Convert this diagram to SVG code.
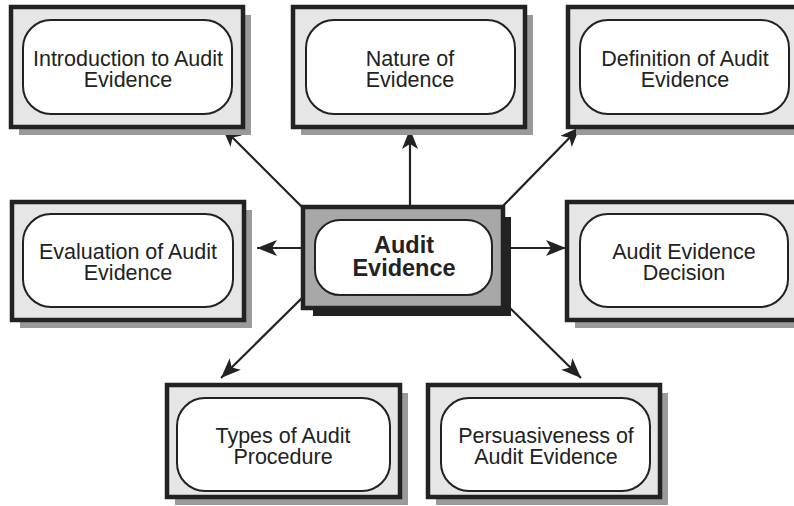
<svg xmlns="http://www.w3.org/2000/svg" width="794" height="506" viewBox="0 0 794 506">
<defs>
<style>
.shadow{fill:#9a9a9a}
.outer{fill:#e6e6e6;stroke:#222;stroke-width:4.5}
.inner{fill:#fff;stroke:#222;stroke-width:2}
.lbl{font-family:"Liberation Sans",Arial,sans-serif;font-size:21.5px;fill:#222;text-anchor:middle}
.clbl{font-family:"Liberation Sans",Arial,sans-serif;font-size:23.5px;font-weight:bold;fill:#222;text-anchor:middle}
.conn{stroke:#222;stroke-width:2.2;fill:none;marker-end:url(#ah)}
</style>
<marker id="ah" markerUnits="userSpaceOnUse" markerWidth="22" markerHeight="18" refX="20" refY="8" orient="auto">
<path d="M0,0 L20,8 L0,16 L5,8 Z" fill="#222"/>
</marker>
</defs>
<rect width="794" height="506" fill="#fff"/>
<g id="connectors">
<line class="conn" x1="303" y1="208" x2="222" y2="127"/>
<line class="conn" x1="410" y1="207" x2="410" y2="129"/>
<line class="conn" x1="502" y1="207" x2="580" y2="127"/>
<line class="conn" x1="303" y1="248" x2="257" y2="248"/>
<line class="conn" x1="510" y1="248" x2="566" y2="248"/>
<line class="conn" x1="302" y1="298" x2="221" y2="378"/>
<line class="conn" x1="510" y1="308" x2="581" y2="378"/>
</g>
<g id="n-intro">
<rect class="shadow" x="19" y="15" width="232" height="120"/>
<rect class="outer" x="11" y="7" width="232" height="120"/>
<rect class="inner" x="23" y="20" width="209" height="94" rx="28"/>
<text class="lbl" x="128" y="66">Introduction to Audit</text>
<text class="lbl" x="128" y="87">Evidence</text>
</g>
<g id="n-nature">
<rect class="shadow" x="301" y="15" width="232" height="120"/>
<rect class="outer" x="293" y="7" width="232" height="120"/>
<rect class="inner" x="306" y="20" width="209" height="94" rx="28"/>
<text class="lbl" x="410" y="66">Nature of</text>
<text class="lbl" x="410" y="87">Evidence</text>
</g>
<g id="n-definition">
<rect class="shadow" x="576" y="15" width="232" height="120"/>
<rect class="outer" x="568" y="7" width="232" height="120"/>
<rect class="inner" x="580" y="20" width="209" height="94" rx="28"/>
<text class="lbl" x="685" y="66">Definition of Audit</text>
<text class="lbl" x="685" y="87">Evidence</text>
</g>
<g id="n-evaluation">
<rect class="shadow" x="20" y="210" width="232" height="118"/>
<rect class="outer" x="12" y="202" width="232" height="118"/>
<rect class="inner" x="23" y="214" width="210" height="93" rx="28"/>
<text class="lbl" x="128" y="259">Evaluation of Audit</text>
<text class="lbl" x="128" y="280">Evidence</text>
</g>
<g id="n-decision">
<rect class="shadow" x="575" y="210" width="232" height="118"/>
<rect class="outer" x="567" y="202" width="232" height="118"/>
<rect class="inner" x="580" y="214" width="208" height="93" rx="28"/>
<text class="lbl" x="684" y="259">Audit Evidence</text>
<text class="lbl" x="684" y="280">Decision</text>
</g>
<g id="n-center">
<rect x="313" y="217" width="198" height="99" fill="#222"/>
<rect x="303" y="207" width="200" height="101" fill="#a8a8a8" stroke="#222" stroke-width="4.5"/>
<rect class="inner" x="315" y="220" width="177" height="75" rx="25"/>
<text class="clbl" x="404" y="253">Audit</text>
<text class="clbl" x="404" y="276">Evidence</text>
</g>
<g id="n-types">
<rect class="shadow" x="175" y="393" width="233" height="112"/>
<rect class="outer" x="167" y="385" width="233" height="112"/>
<rect class="inner" x="177" y="398" width="213" height="93" rx="28"/>
<text class="lbl" x="283" y="443">Types of Audit</text>
<text class="lbl" x="283" y="464">Procedure</text>
</g>
<g id="n-persuasiveness">
<rect class="shadow" x="436" y="393" width="232" height="112"/>
<rect class="outer" x="428" y="385" width="232" height="112"/>
<rect class="inner" x="441" y="398" width="209" height="93" rx="28"/>
<text class="lbl" x="546" y="443">Persuasiveness of</text>
<text class="lbl" x="546" y="464">Audit Evidence</text>
</g>
</svg>
